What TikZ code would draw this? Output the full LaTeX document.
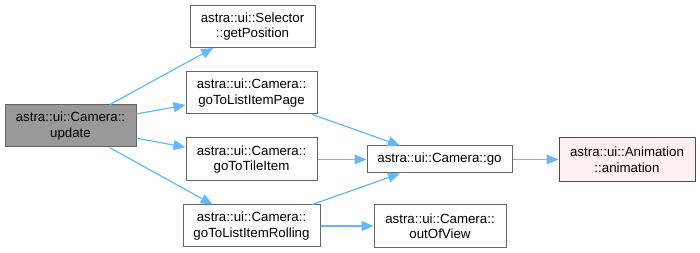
\documentclass[tikz,border=0pt]{standalone}
\usepackage{fontspec}
\setmainfont{Liberation Sans}
\usetikzlibrary{arrows.meta}
\definecolor{edgeblue}{HTML}{63B8FF}
\definecolor{boxgray}{HTML}{666666}
\definecolor{rootfill}{HTML}{999999}
\definecolor{extfill}{HTML}{FFF0F0}
\begin{document}
\begin{tikzpicture}[x=1pt,y=-1pt,
  fn/.style={draw=boxgray, fill=white, line width=1pt, inner sep=0pt, align=center,
    font=\fontsize{13.3}{15.5}\selectfont},
  root/.style={fn, fill=rootfill},
  ext/.style={fn, draw=red, fill=extfill},
  call/.style={draw=edgeblue, line width=1.2pt, -{Triangle[length=12pt,width=10pt]}}]
\useasboundingbox (0,0) rectangle (700,253);

% functions
\node[root, minimum width=131pt, minimum height=42pt] (update) at (70.5,126) {astra::ui::Camera::\\update};
\node[fn, minimum width=125pt, minimum height=42pt] (getpos) at (252.5,26.5) {astra::ui::Selector\\::getPosition};
\node[fn, minimum width=131pt, minimum height=42pt] (page) at (251.5,93) {astra::ui::Camera::\\goToListItemPage};
\node[fn, minimum width=131pt, minimum height=43pt] (tile) at (251.5,159.5) {astra::ui::Camera::\\goToTileItem};
\node[fn, minimum width=137pt, minimum height=42pt] (rolling) at (251.5,226) {astra::ui::Camera::\\goToListItemRolling};
\node[fn, minimum width=145pt, minimum height=27pt] (go) at (439.5,159.5) {astra::ui::Camera::go};
\node[ext, minimum width=136pt, minimum height=44pt] (anim) at (627,159.5) {astra::ui::Animation\\::animation};
\node[fn, minimum width=132pt, minimum height=43pt] (outview) at (440,226) {astra::ui::Camera::\\outOfView};

% calls
\draw[call] (update) -- (getpos);
\draw[call] (update) -- (page);
\draw[call] (update) -- (tile);
\draw[call] (update) -- (rolling);
\draw[call] (page) -- (go);
\draw[call] (tile) -- (go);
\draw[call] (rolling) -- (go);
\draw[call] (rolling) -- (outview);
\draw[call] (go) -- (anim);
\end{tikzpicture}
\end{document}
